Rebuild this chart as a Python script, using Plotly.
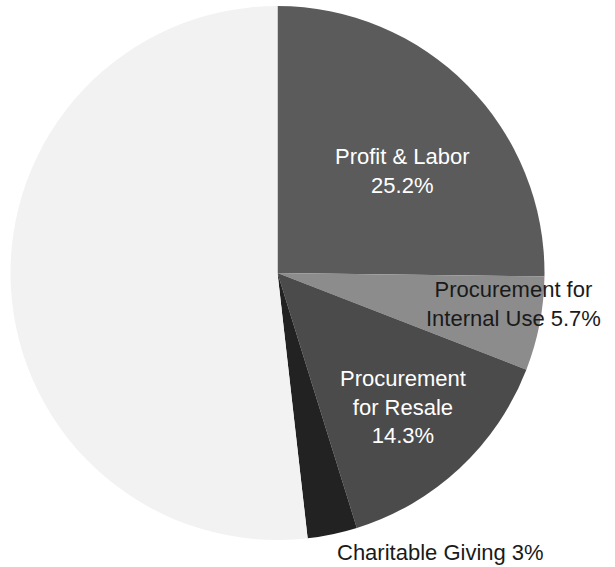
import plotly.graph_objects as go

categories = ["Profit & Labor", "Procurement for Internal Use", "Procurement for Resale",
              "Charitable Giving", "Other"]
values = [25.2, 5.7, 14.3, 3.0, 51.8]
colors = ["#5b5b5b", "#8c8c8c", "#4b4b4b", "#222222", "#f2f2f2"]

label_texts = ["Profit & Labor<br>25.2%", "Procurement for<br>Internal Use 5.7%",
               "Procurement<br>for Resale<br>14.3%", "Charitable Giving 3%"]
label_pos = [(402, 171), (513, 304), (403, 407), (440, 552)]
label_colors = ["white", "#1a1a1a", "white", "#1a1a1a"]

W, H = 615, 567
fig = go.Figure(go.Pie(
    labels=categories, values=values, sort=False, direction="clockwise", rotation=0,
    marker=dict(colors=colors, line=dict(width=0)),
    textinfo="none", hoverinfo="label+percent", showlegend=False,
    domain=dict(x=[10 / W, 545 / W], y=[1 - 540 / H, 1 - 6 / H]),
))
for t, (px, py), c in zip(label_texts, label_pos, label_colors):
    fig.add_annotation(x=px / W, y=1 - py / H, xref="paper", yref="paper", text=t,
                       xanchor="center", yanchor="middle",
                       showarrow=False, font=dict(family="Liberation Sans, Arial", size=22, color=c),
                       align="center")
fig.update_layout(width=W, height=H, margin=dict(l=0, r=0, t=0, b=0),
                  paper_bgcolor="white", plot_bgcolor="white")
fig.write_html("out.html", config={"displayModeBar": False},
               post_script="document.body.style.margin='0px';")
